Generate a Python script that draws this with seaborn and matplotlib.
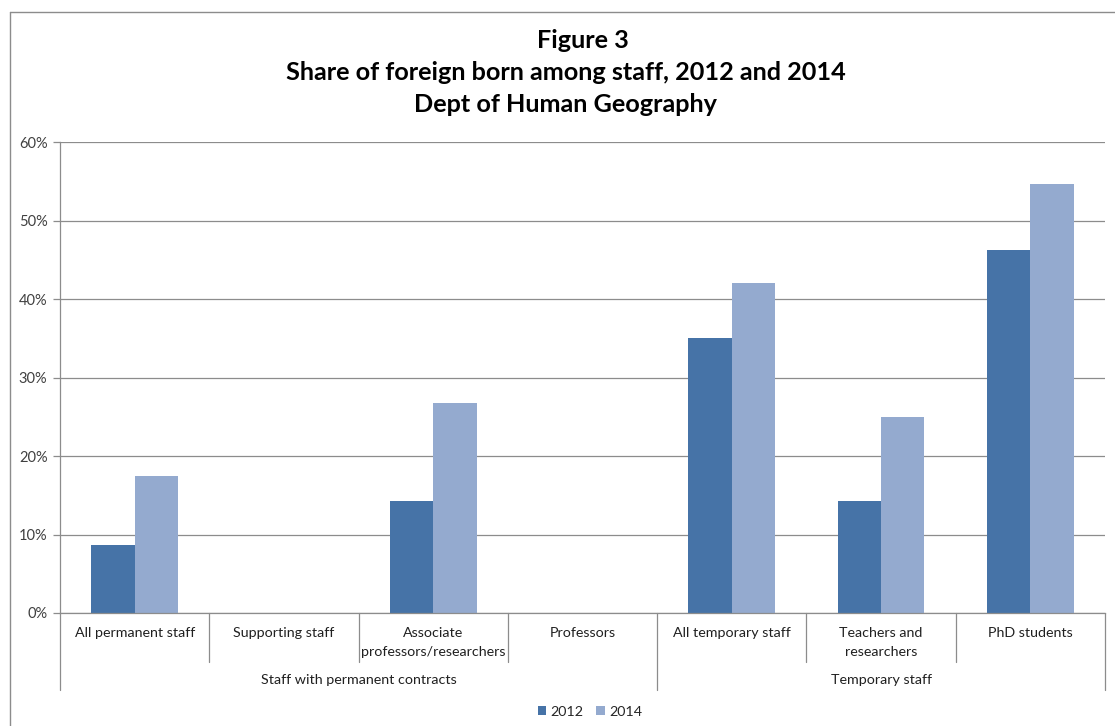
import matplotlib
matplotlib.use("Agg")
import matplotlib.pyplot as plt
import seaborn as sns
import pandas as pd
from matplotlib.lines import Line2D
from matplotlib.patches import Patch

# ---- data ----
categories = ["All permanent staff", "Supporting staff", "Associate\nprofessors/researchers",
              "Professors", "All temporary staff", "Teachers and\nresearchers", "PhD students"]
groups = ["Staff with permanent contracts", "Temporary staff"]
group_spans = [(0, 3), (4, 6)]  # first/last category index of each group
years = ["2012", "2014"]
share_2012 = [8.7, 0.0, 14.3, 0.0, 35.0, 14.3, 46.2]
share_2014 = [17.4, 0.0, 26.7, 0.0, 42.1, 25.0, 54.6]
yticks = [0, 10, 20, 30, 40, 50, 60]
title_lines = ["Figure 3", "Share of foreign born among staff, 2012 and 2014", "Dept of Human Geography"]

df = pd.DataFrame({
    "category": categories * 2,
    "year": [years[0]] * len(categories) + [years[1]] * len(categories),
    "share": share_2012 + share_2014,
})

c2012 = "#4673A7"
c2014 = "#94AACF"
gridc = "#8C8C8C"

sns.set_theme(style="white")
plt.rcParams["font.family"] = ["Lato", "DejaVu Sans"]

W, H = 1115, 726
fig = plt.figure(figsize=(W / 100, H / 100), dpi=100)
ax = fig.add_axes([60 / W, 1 - 613 / H, (1105 - 60) / W, (613 - 142) / H])

sns.barplot(data=df, x="category", y="share", hue="year", order=categories,
            hue_order=years, palette=[c2012, c2014], saturation=1, width=0.58,
            ax=ax, legend=False, linewidth=0)

ax.set_xlim(-0.5, len(categories) - 0.5)
ax.set_ylim(0, 60)
ax.set_yticks(yticks)
ax.set_yticklabels([f"{v}%" for v in yticks], fontsize=10.5, color="#404040")
ax.yaxis.grid(True, color=gridc, linewidth=0.9)
ax.set_axisbelow(True)
ax.tick_params(axis="y", length=5, width=0.9, color=gridc, pad=4, left=True)
ax.set_xlabel("")
ax.set_ylabel("")
ax.set_xticks(range(len(categories)))
ax.set_xticklabels(categories, fontsize=10.3, color="#202020", linespacing=1.7)
ax.tick_params(axis="x", length=0, pad=10)
for s in ["top", "right"]:
    ax.spines[s].set_visible(False)
for s in ["left", "bottom"]:
    ax.spines[s].set_color(gridc)
    ax.spines[s].set_linewidth(0.9)

# category dividers
tr = ax.get_xaxis_transform()
ah = 613 - 142
y_lvl1 = -(662 - 613) / ah
y_lvl2 = -(690 - 613) / ah
outer = {-0.5} | {e + 0.5 for _, e in group_spans}
for k in range(len(categories) + 1):
    xpos = k - 0.5
    ybot = y_lvl2 if xpos in outer else y_lvl1
    ax.add_line(Line2D([xpos, xpos], [0, ybot], transform=tr, color=gridc,
                       linewidth=0.9, clip_on=False))
for g, (a, b) in zip(groups, group_spans):
    ax.text((a + b) / 2, -(680 - 613) / ah, g, transform=tr, ha="center", va="center",
            fontsize=10.3, color="#202020")

# legend
handles = [Patch(facecolor=c2012, edgecolor="none"), Patch(facecolor=c2014, edgecolor="none")]
fig.legend(handles, years, loc="center", bbox_to_anchor=(590 / W, 1 - 712 / H), ncol=2,
           frameon=False, fontsize=10.3, handlelength=0.6, handleheight=0.6,
           handletextpad=0.3, columnspacing=0.9)

# title
title_x = [583, 566, 566]
for i, t in enumerate(title_lines):
    fig.text(title_x[i] / W, 1 - (41 + 32 * i) / H, t, ha="center", va="center",
             fontsize=18.2, fontweight="bold", color="#000000")

# outer chart border (left and top)
fig.add_artist(Line2D([10 / W, 10 / W], [0, 1 - 12 / H], transform=fig.transFigure,
                      color="#8C8C8C", linewidth=1))
fig.add_artist(Line2D([10 / W, 1], [1 - 12 / H, 1 - 12 / H], transform=fig.transFigure,
                      color="#8C8C8C", linewidth=1))

fig.savefig("out.png", dpi=100, facecolor="white")
